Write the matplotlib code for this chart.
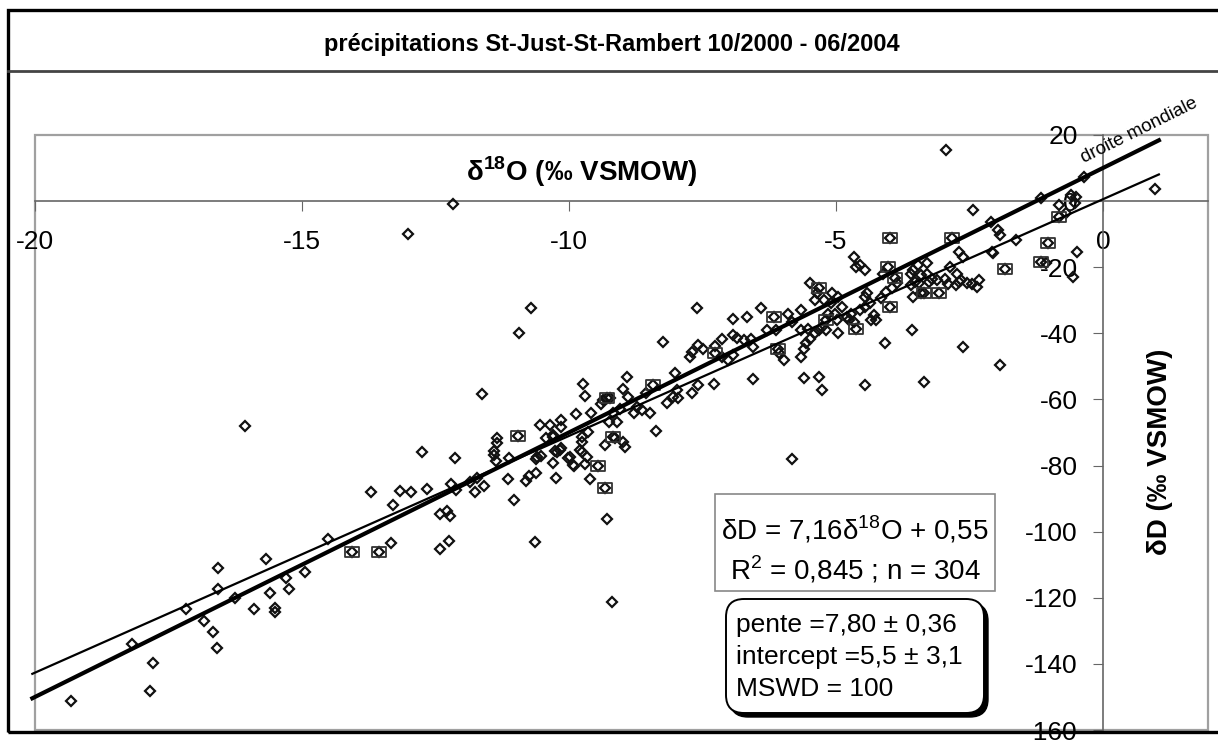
import math
import matplotlib
matplotlib.use('Agg')
import matplotlib.pyplot as plt
import numpy as np
from matplotlib.patches import Rectangle, FancyBboxPatch
from matplotlib.path import Path
from matplotlib.transforms import IdentityTransform

# delta 18O / delta D values (diamonds)
d18o = [-19.32, -17.85, -17.79, -18.19, -17.17, -16.84, -16.66, -16.59, -16.57, -16.57,
        -16.26, -16.06, -15.89, -15.68, -15.59, -15.50, -15.50, -15.29, -15.25, -14.95,
        -14.51, -14.07, -13.55, -13.34, -13.70, -13.30, -13.17, -12.95, -12.76, -12.65,
        -12.42, -12.29, -12.22, -12.42, -12.25, -12.20, -12.13, -12.12, -11.86, -11.75,
        -11.59, -11.62, -11.72, -11.41, -11.34, -11.34, -11.36, -11.13, -11.15, -11.02,
        -10.95, -10.63, -10.80, -10.75, -10.61, -10.61, -10.52, -10.54, -10.36, -10.15,
        -10.15, -10.43, -10.29, -10.29, -10.25, -10.23, -10.15, -10.02, -9.91, -9.86,
        -9.73, -9.70, -9.59, -9.65, -9.75, -9.75, -9.70, -9.61, -9.45,
        -12.17, -13.01, -10.71, -10.93, -8.23, -8.91, -9.29, -9.36, -9.23, -9.39,
        -8.98, -8.89, -9.04, -9.17, -9.24, -9.17, -9.13, -8.98, -8.95, -9.33,
        -9.67, -9.79, -9.76, -9.98, -9.92, -10.17, -10.26, -10.29, -10.60, -11.40,
        -8.55, -8.42, -8.48, -8.73, -8.64, -8.78, -8.36, -8.17, -8.05, -8.01, -7.98,
        -5.83, -9.20, -9.29, -9.33, -9.09, -7.95, -7.69, -7.58, -7.28,
        -7.60, -6.93, -6.67, -6.40, -7.59, -7.49, -7.27, -7.14, -7.70, -7.74,
        -7.27, -7.14, -7.02, -6.93, -6.72, -6.59, -6.85, -6.93, -6.55, -6.29,
        -6.12, -6.16, -5.90, -5.82, -5.65, -6.09, -6.06, -5.97, -5.65, -5.60,
        -5.55, -5.48, -5.39, -5.31, -5.26, -5.65, -5.52, -5.49, -5.31, -5.35,
        -5.39, -5.22, -5.07, -5.09, -4.96, -4.88, -5.14, -5.18, -5.01, -4.98,
        -4.79, -4.71, -5.18, -4.96, -4.62, -4.66, -4.76, -4.54, -4.45, -4.37,
        -4.35, -4.28, -4.24, -4.45, -4.41, -4.15, -4.07, -3.94, -3.85, -3.98,
        -4.08, -4.45, -5.26, -5.31, -5.60, -6.55, -4.62, -4.54, -4.66, -4.45,
        -4.03, -4.11, -3.90, -3.98, -3.60, -3.55, -3.40, -3.30, -3.20, -3.60,
        -3.51, -3.44, -3.34, -3.41, -3.07, -3.55, -3.25, -3.47, -3.30, -2.83,
        -2.87, -2.74, -2.66, -3.10, -2.95, -2.90, -2.75, -2.70, -2.55, -2.45,
        -2.35, -2.31, -2.70, -2.61, -2.43, -2.93, -2.10, -1.97, -1.93, -2.07,
        -2.06, -1.93, -2.61, -3.34, -3.58, -1.63, -1.84, -1.16, -1.07, -1.03,
        -1.16, -0.82, -0.82, -0.69, -0.60, -0.50, -0.52, -0.36, -0.48, -0.56, 0.98]
dD = [-151.2, -148.2, -139.7, -134.0, -123.3, -127.0, -130.3, -135.1, -117.2, -110.9,
      -120.2, -68.1, -123.5, -108.4, -118.7, -123.0, -124.2, -113.9, -117.2, -112.1,
      -102.1, -106.2, -106.2, -103.5, -87.9, -92.0, -87.7, -87.9, -76.0, -87.0,
      -94.8, -93.7, -95.2, -105.2, -102.7, -85.6, -77.6, -87.4, -85.0, -87.9,
      -86.2, -58.4, -83.9, -75.5, -71.8, -73.3, -78.6, -77.8, -84.0, -90.4,
      -71.0, -103.2, -84.6, -83.2, -82.4, -78.1, -77.1, -67.6, -67.6, -66.2,
      -68.2, -71.8, -70.8, -79.1, -83.9, -75.8, -74.8, -77.8, -80.2, -64.5,
      -55.4, -58.9, -64.0, -69.8, -72.8, -75.8, -79.4, -84.2, -80.1,
      -1.0, -9.8, -32.2, -40.0, -42.6, -53.3, -59.7, -60.2, -59.7, -61.4,
      -56.7, -59.4, -63.0, -64.2, -66.8, -71.3, -71.6, -72.8, -74.3, -73.8,
      -77.3, -75.3, -71.3, -77.3, -79.9, -75.3, -75.5, -71.3, -77.3, -76.9,
      -58.2, -55.7, -64.2, -62.2, -63.2, -64.0, -69.5, -61.2, -59.2, -52.1, -57.2,
      -78.0, -121.2, -96.3, -86.7, -66.8, -59.7, -58.2, -55.7, -55.4,
      -32.2, -35.7, -35.0, -32.2, -43.6, -44.6, -43.9, -41.6, -45.6, -47.1,
      -46.1, -47.1, -48.1, -46.6, -42.0, -41.8, -41.5, -40.5, -44.1, -39.0,
      -39.0, -35.0, -34.0, -36.5, -33.0, -44.6, -46.1, -48.1, -47.1, -44.6,
      -43.0, -41.8, -40.0, -39.0, -38.0, -39.0, -38.8, -24.9, -26.4, -27.9,
      -29.9, -29.9, -27.9, -30.9, -28.9, -32.0, -34.0, -36.0, -34.0, -36.0,
      -35.0, -34.0, -39.0, -40.0, -38.8, -36.5, -36.0, -33.0, -32.0, -30.9,
      -36.0, -34.5, -36.0, -28.9, -27.9, -29.4, -27.4, -26.4, -24.9, -32.0,
      -43.0, -55.7, -57.2, -53.1, -53.6, -53.9, -19.9, -19.4, -16.8, -20.9,
      -19.9, -21.9, -23.4, -11.3, -21.9, -20.9, -22.5, -22.0, -23.5, -25.4,
      -24.4, -24.9, -27.9, -27.9, -27.7, -28.9, -24.4, -19.4, -18.8, -11.3,
      -19.9, -21.9, -23.9, -24.0, -23.5, -25.0, -25.5, -24.5, -24.8, -25.0,
      -26.0, -23.9, -15.3, -16.8, -2.7, 15.6, -6.3, -8.8, -10.3, -15.3,
      -15.8, -49.6, -44.1, -54.7, -39.0, -11.8, -20.4, -18.4, -18.8, -12.8,
      0.8, -1.2, -4.7, -3.7, 1.8, 1.3, -0.7, 7.4, -15.3, -22.9, 3.8]

# samples drawn with an extra square around the diamond
sq_d18o = [-14.07, -13.55, -10.95, -9.45, -9.29, -9.17, -9.33, -8.42, -7.27, -6.16,
           -6.09, -5.31, -5.18, -4.62, -3.98, -4.03, -3.90, -3.98, -3.34, -3.07,
           -2.83, -1.84, -1.16, -1.03, -0.82]
sq_dD = [-106.2, -106.2, -71.0, -80.1, -59.7, -71.3, -86.7, -55.7, -46.1, -35.0,
         -44.6, -26.4, -36.0, -38.8, -32.0, -19.9, -23.4, -11.3, -27.9, -27.7,
         -11.3, -20.4, -18.4, -12.8, -4.7]

# lines: world meteoric line and regression
gmwl_slope, gmwl_int = 8.0, 10.0
fit_slope, fit_int = 7.16, 0.55
line_x = np.array([-20.05, 1.05])

xticks = [-20, -15, -10, -5, 0]
yticks = [-160, -140, -120, -100, -80, -60, -40, -20, 0, 20]

plt.rcParams['font.family'] = ['Liberation Sans', 'DejaVu Sans']
plt.rcParams['mathtext.fontset'] = 'custom'
plt.rcParams['mathtext.rm'] = 'Liberation Sans'
plt.rcParams['mathtext.bf'] = 'Liberation Sans:bold'
plt.rcParams['axes.unicode_minus'] = False

W, H = 1218, 743
fig = plt.figure(figsize=(W / 100, H / 100), dpi=100)


def fx(px):
    return px / W


def fy(py):
    return 1 - py / H


ax = fig.add_axes([fx(35), fy(730), fx(1208) - fx(35), fy(135) - fy(730)])
ax.set_xlim(-20, 1.97)
ax.set_ylim(-160, 20)
ax.patch.set_visible(False)

for s in ['top', 'right']:
    ax.spines[s].set_visible(False)
ax.spines['bottom'].set_position(('data', 0))
ax.spines['left'].set_position(('data', 0))
for s in ['bottom', 'left']:
    ax.spines[s].set_color('#666666')
    ax.spines[s].set_linewidth(1.2)
ax.add_patch(Rectangle((0, 0), 1, 1, transform=ax.transAxes, fill=False,
                       ec='#a0a0a0', lw=1.6, zorder=0, clip_on=False))

ax.set_xticks(xticks)
ax.set_yticks(yticks)
ax.tick_params(axis='x', direction='out', length=7, color='#666666',
               labelsize=19, pad=14)
ax.tick_params(axis='y', direction='out', length=7, color='#666666',
               labelsize=19, pad=11)

# points
ax.plot(d18o, dD, ls='none', marker='D', ms=4.8, mfc='none', mec='#111111',
        mew=1.6, zorder=3)
rect = Path([(-1.3, -1), (1.3, -1), (1.3, 1), (-1.3, 1), (-1.3, -1)],
            [Path.MOVETO, Path.LINETO, Path.LINETO, Path.LINETO, Path.CLOSEPOLY])
ax.plot(sq_d18o, sq_dD, ls='none', marker=rect, ms=10, mfc='none',
        mec='#333333', mew=1.3, zorder=3)

# lines
ax.plot(line_x, gmwl_slope * line_x + gmwl_int, color='black', lw=3.0,
        zorder=4, clip_on=False)
ax.plot(line_x, fit_slope * line_x + fit_int, color='black', lw=1.6,
        zorder=4, clip_on=False)
ax.text(0.72, gmwl_slope * 0.72 + gmwl_int + 4.5, 'droite mondiale', size=13.5,
        rotation=math.degrees(math.atan(gmwl_slope)), transform_rotates_text=True,
        rotation_mode='anchor', ha='center', va='baseline', clip_on=False)

# axis titles
fig.text(fx(582), fy(172), 'δ$^{\\mathbf{18}}$O (‰ VSMOW)', size=20,
         weight='bold', ha='center', va='center')
fig.text(fx(1160), fy(452), 'δD (‰ VSMOW)', size=20, weight='bold',
         rotation=90, ha='center', va='center')

# title and frame
fig.text(fx(612), fy(45), 'précipitations St-Just-St-Rambert 10/2000 - 06/2004',
         size=17, weight='bold', ha='center', va='center')
fig.add_artist(Rectangle((8, H - 732), 1230, 722, transform=IdentityTransform(),
                         fill=False, ec='black', lw=2.4))
fig.add_artist(plt.Line2D([8, 1230], [H - 71, H - 71], transform=IdentityTransform(),
                          color='#444444', lw=2.0))

# regression box
fig.add_artist(Rectangle((715, H - 591), 280, 97, transform=IdentityTransform(),
                         fc='white', ec='#888888', lw=1.2, zorder=5))
fs = f'{fit_slope:.2f}'.replace('.', ',')
fi = f'{fit_int:.2f}'.replace('.', ',')
fig.text(fx(855), fy(530), f'δD = {fs}δ$^{{\\mathregular{{18}}}}$O + {fi}', size=20,
         ha='center', va='center', zorder=6)
fig.text(fx(855), fy(570), 'R$^{\\mathregular{2}}$ = 0,845 ; n = 304', size=20,
         ha='center', va='center', zorder=6)

# rounded box with shadow
fig.add_artist(FancyBboxPatch((730, H - 717), 258, 114, transform=IdentityTransform(),
                              boxstyle='round,pad=0,rounding_size=18',
                              fc='black', ec='black', lw=1, zorder=5))
fig.add_artist(FancyBboxPatch((726, H - 713), 258, 114, transform=IdentityTransform(),
                              boxstyle='round,pad=0,rounding_size=18',
                              fc='white', ec='black', lw=1.4, zorder=5))
for yy, line in zip([625, 657, 689], ['pente =7,80 ± 0,36', 'intercept =5,5 ± 3,1',
                                       'MSWD = 100']):
    fig.text(fx(736), fy(yy), line, size=19, ha='left', va='center', zorder=6)

fig.savefig('out.png', dpi=100)
